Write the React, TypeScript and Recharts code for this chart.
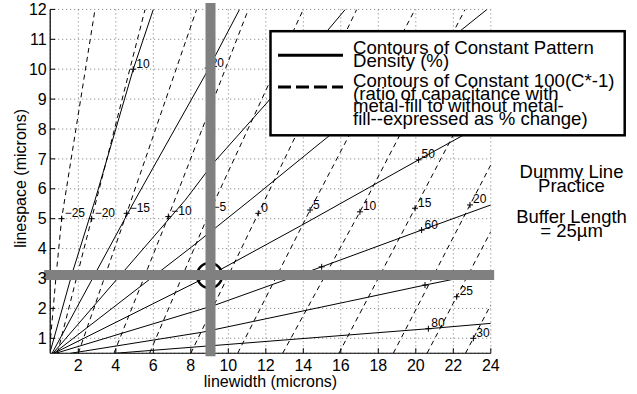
import React from "react";
import {
  ComposedChart,
  Line,
  Scatter,
  XAxis,
  YAxis,
  CartesianGrid,
  ReferenceLine,
  ReferenceDot,
  Label,
} from "recharts";

type Pt = { x: number; y: number };
const pts = (pairs: number[][]): Pt[] => pairs.map(([x, y]) => ({ x, y }));

// contours of constant pattern density (%), (linewidth, linespace) in microns
const density10 = pts([[0.5, 0.55], [1.66, 3.15], [2.89, 5.62], [4.93, 10], [6.0, 12]]);
const density20 = pts([[0.6, 0.5], [5.02, 5.62], [8.76, 9.8], [10.6, 12]]);
const density30 = pts([[0.65, 0.5], [7.7, 5.62], [9.2, 6.86], [12.05, 8.87], [16.24, 12]]);
const density40 = pts([[0.7, 0.5], [8.05, 4.06], [11.16, 5.62], [14.9, 7.53], [23.8, 12]]);
const density50 = pts([[0.7, 0.5], [9.0, 3.1], [13.91, 4.78], [20.15, 6.97], [24, 8.3]]);
const density60 = pts([[0.8, 0.5], [9.29, 2.11], [14.98, 3.39], [20.31, 4.62], [24, 5.46]]);
const density70 = pts([[1.6, 0.5], [8.58, 1.2], [16.3, 2.22], [20.49, 2.78], [24, 3.23]]);
const density80 = pts([[3.96, 0.5], [20.67, 1.32], [24, 1.5]]);

// contours of constant 100(C*-1), % change in capacitance
const capM25 = pts([[0.52, 1.0], [0.8, 3.0], [1.11, 5.0], [2.89, 12]]);
const capM20 = pts([[0.88, 0.5], [2.71, 5.0], [5.56, 12]]);
const capM15 = pts([[2.0, 0.5], [4.58, 5.18], [8.31, 12]]);
const capM10 = pts([[3.9, 0.5], [6.8, 5.07], [11.07, 12]]);
const capM5 = pts([[5.8, 0.5], [9.0, 5.22], [14.0, 12]]);
const cap0 = pts([[8.0, 0.5], [11.6, 5.18], [16.85, 12]]);
const cap5 = pts([[10.5, 0.5], [14.36, 5.29], [19.96, 12]]);
const cap10 = pts([[12.9, 0.5], [17.02, 5.23], [22.63, 12]]);
const cap15 = pts([[15.9, 0.5], [19.96, 5.35], [24, 10.2]]);
const cap20 = pts([[18.8, 0.5], [22.89, 5.46], [24, 6.8]]);
const cap25 = pts([[20.6, 0.5], [22.18, 2.39], [24, 4.57]]);
const cap30 = pts([[22.65, 0.5], [23.07, 1.0], [24, 2.12]]);

const densityLines = [density10, density20, density30, density40, density50, density60, density70, density80];
const capLines = [capM25, capM20, capM15, capM10, capM5, cap0, cap5, cap10, cap15, cap20, cap25, cap30];

// clabel marks: position on the contour and its text
const densityLabels = [
  { x: 4.93, y: 10, text: "10" },
  { x: 8.9, y: 10.04, text: "20" },
  { x: 20.15, y: 6.97, text: "50" },
  { x: 20.31, y: 4.62, text: "60" },
  { x: 14.98, y: 3.39, text: "" },
  { x: 20.49, y: 2.78, text: "" },
  { x: 20.67, y: 1.32, text: "80" },
];
const capLabels = [
  { x: 1.11, y: 5.0, text: "\u221225" },
  { x: 2.71, y: 5.0, text: "\u221220" },
  { x: 4.58, y: 5.18, text: "\u221215" },
  { x: 6.8, y: 5.07, text: "\u221210" },
  { x: 9.0, y: 5.22, text: "\u22125" },
  { x: 11.6, y: 5.18, text: "0" },
  { x: 14.36, y: 5.29, text: "5" },
  { x: 17.02, y: 5.23, text: "10" },
  { x: 19.96, y: 5.35, text: "15" },
  { x: 22.89, y: 5.46, text: "20" },
  { x: 22.18, y: 2.39, text: "25" },
  { x: 23.07, y: 1.0, text: "30" },
];

// chosen design point
const designWidth = 9.05;
const designSpace = 3.12;

const xTicks = [2, 4, 6, 8, 10, 12, 14, 16, 18, 20, 22, 24];
const yTicks = [1, 2, 3, 4, 5, 6, 7, 8, 9, 10, 11, 12];

const FONT = "'Liberation Sans', Arial, Helvetica, sans-serif";

const ContourMark = (props: any) => {
  const { cx, cy, payload } = props;
  return (
    <g>
      <path d={`M${cx - 3},${cy}H${cx + 3}M${cx},${cy - 3}V${cy + 3}`} stroke="#000" strokeWidth={1} />
      {payload.text ? (
        <text x={cx + 3} y={cy - 1.5} fontSize={12} fill="#000">
          {payload.text}
        </text>
      ) : null}
    </g>
  );
};

export default function App() {
  return (
    <div style={{ position: "absolute", left: 0, top: 0, width: 637, height: 394, background: "#fff", fontFamily: FONT }}>
      <ComposedChart width={637} height={394} margin={{ top: 9.4, right: 146.2, bottom: 6.75, left: 10.2 }}>
        <CartesianGrid stroke="#777" strokeDasharray="1 3" />
        <XAxis
          dataKey="x"
          type="number"
          domain={[0.5, 24]}
          ticks={xTicks}
          interval={0}
          allowDataOverflow
          height={34}
          tickSize={-5}
          tickMargin={11}
          axisLine={{ stroke: "#000", strokeWidth: 1.2 }}
          tickLine={{ stroke: "#000" }}
          tick={{ fill: "#000", fontSize: 16 }}
        >
          <Label value="linewidth (microns)" position="insideBottom" offset={0.75} fill="#000" fontSize={16} />
        </XAxis>
        <XAxis
          xAxisId="top"
          orientation="top"
          dataKey="x"
          type="number"
          domain={[0.5, 24]}
          ticks={xTicks}
          interval={0}
          allowDataOverflow
          height={0}
          tickSize={-5}
          tick={false}
          axisLine={{ stroke: "#000", strokeWidth: 1.2 }}
          tickLine={{ stroke: "#000" }}
        />
        <YAxis
          type="number"
          domain={[0.5, 12]}
          ticks={yTicks}
          interval={0}
          allowDataOverflow
          width={40}
          tickSize={-5}
          tickMargin={8.5}
          axisLine={{ stroke: "#000", strokeWidth: 1.2 }}
          tickLine={{ stroke: "#000" }}
          tick={{ fill: "#000", fontSize: 16 }}
        >
          <Label
            value="linespace (microns)"
            angle={-90}
            position="insideLeft"
            offset={10}
            dy={-3}
            fill="#000"
            fontSize={16}
            style={{ textAnchor: "middle" }}
          />
        </YAxis>
        <YAxis
          yAxisId="right"
          orientation="right"
          type="number"
          domain={[0.5, 12]}
          ticks={yTicks}
          interval={0}
          allowDataOverflow
          width={0}
          tickSize={-5}
          tick={false}
          axisLine={{ stroke: "#000", strokeWidth: 1.2 }}
          tickLine={{ stroke: "#000" }}
        />

        {capLines.map((d, i) => (
          <Line
            key={`cap-${i}`}
            data={d}
            dataKey="y"
            type="linear"
            stroke="#000"
            strokeWidth={1}
            strokeDasharray="5 4"
            dot={false}
            activeDot={false}
            isAnimationActive={false}
          />
        ))}
        {densityLines.map((d, i) => (
          <Line
            key={`dens-${i}`}
            data={d}
            dataKey="y"
            type="linear"
            stroke="#000"
            strokeWidth={1}
            dot={false}
            activeDot={false}
            isAnimationActive={false}
          />
        ))}
        <Scatter data={[...densityLabels, ...capLabels]} dataKey="y" shape={ContourMark} isAnimationActive={false} />

        {/* the ring sits under the two gray guide bars */}
        <ReferenceDot x={9.0} y={3.1} r={12.5} fill="none" stroke="#000" strokeWidth={2.5} zIndex={700} />
        <ReferenceLine
          segment={[{ x: designWidth, y: 12.21 }, { x: designWidth, y: 0.4 }]}
          stroke="#808080"
          strokeWidth={10}
          ifOverflow="visible"
          zIndex={1500}
        />
        <ReferenceLine
          segment={[{ x: 0.18, y: designSpace }, { x: 24.18, y: designSpace }]}
          stroke="#808080"
          strokeWidth={10}
          ifOverflow="visible"
          zIndex={1500}
        />
      </ComposedChart>

      <svg
        width={637}
        height={394}
        style={{ position: "absolute", left: 0, top: 0, pointerEvents: "none" }}
        fontFamily={FONT}
      >
        <rect x={270.5} y={31.2} width={354.2} height={104.1} fill="#fff" stroke="#000" strokeWidth={2.5} />
        <line x1={278} y1={55.3} x2={343} y2={55.3} stroke="#000" strokeWidth={3} />
        <line x1={278} y1={87} x2={343} y2={87} stroke="#000" strokeWidth={3} strokeDasharray="13 5" />
        <g fontSize={18.6} fill="#000">
          <text x={353} y={54.3}>Contours of Constant Pattern</text>
          <text x={353} y={66.7}>Density (%)</text>
          <text x={353} y={87.3}>Contours of Constant 100(C*-1)</text>
          <text x={353} y={100}>(ratio of capacitance with</text>
          <text x={353} y={111.7}>metal-fill to without metal-</text>
          <text x={353} y={125}>fill--expressed as % change)</text>
        </g>
        <g fontSize={18.5} fill="#000" textAnchor="middle">
          <text x={571.5} y={178}>Dummy Line</text>
          <text x={571.5} y={191.5}>Practice</text>
          <text x={571.5} y={223.3}>Buffer Length</text>
          <text x={571.5} y={236.7}>= 25µm</text>
        </g>
      </svg>
    </div>
  );
}
